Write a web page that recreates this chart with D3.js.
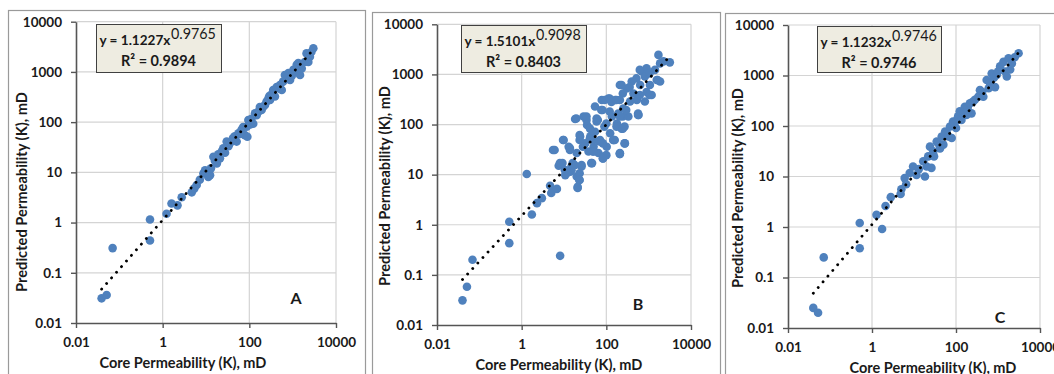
<!DOCTYPE html>
<html>
<head>
<meta charset="utf-8">
<script src="https://cdn.jsdelivr.net/npm/d3@7"></script>
<style>
  body { margin: 0; background: #fff; }
  svg { display: block; }
  text { font-family: Lato, "Open Sans", sans-serif; fill: #1a1a1a; }
</style>
</head>
<body>
<svg width="1054" height="374"></svg>
<script>
// core vs predicted permeability (mD)
var pointsA = [
  [0.039,0.031],[0.051,0.036],[0.070,0.31],[0.51,1.15],[0.51,0.44],[1.23,1.5],[1.6,2.4],[2.2,2.2],
  [2.75,3.2],[4.7,4.0],[5.4,4.8],[6.1,5.6],[7.2,7.1],[8.7,9.5],[9.5,11],[11.3,8.1],[12.4,8.8],[13,12],
  [14.8,20.5],[16,17],[17.8,15],[19.2,23],[21,19],[23,26],[25,30],[27.5,24.5],[30,41],[33,33],
  [35.6,38],[42,48],[46,52],[51,41],[56,60],[62,58],[66,70],[72,80],[79,55],[87,81],[90,51],[95,110],
  [100,100],[105,90],[112,117],[123,93],[135,150],[148,138],[162,162],[175,200],[192,175],[210,204],
  [230,220],[250,257],[275,295],[290,330],[300,275],[330,360],[355,437],[390,324],[427,500],[480,470],
  [510,550],[560,437],[600,640],[660,870],[730,740],[800,950],[870,690],[950,830],[1040,1100],
  [1150,1000],[1240,1380],[1350,1500],[1480,870],[1620,1170],[1900,1580],[2090,2340],[2300,1580],
  [2500,2000],[2700,2500],[3000,2950]
];
var pointsB = [
  [0.04,0.031],[0.051,0.058],[0.069,0.2],[0.51,1.15],[0.51,0.43],[1.32,10.3],[1.74,1.6],[2.3,2.7],
  [3.0,3.4],[5.0,4.3],[4.7,6.0],[6.8,5.2],[8.1,0.24],[6.0,31],[7.5,15],[9.2,17],[9.8,49],[10.7,9.8],
  [12.9,36],[14,11.5],[15,14.5],[18.3,129],[20,27],[21,5.4],[23,7.8],[24,58],[26,15.5],[29,145],
  [31.6,42],[35,98],[38,29],[42,58],[46,17],[50,36],[54,72],[59,132],[65,27],[71,49],[78,309],
  [81,195],[85,23],[90,91],[102,36],[112,331],[123,67],[135,145],[148,49],[162,309],[178,105],
  [191,166],[209,27],[209,616],[229,83],[251,209],[275,42],[302,525],[331,145],[363,288],[398,724],
  [437,417],[525,309],[575,155],[630,616],[692,1150],[813,912],[891,1320],[1070,616],[1175,389],
  [1410,1230],[1550,776],[1860,1660],[1860,724],[1700,2450],[2240,1820],[3160,1740],[813,288],
  [54,229],[617,1230],[1050,1050],[1620,776],[513,832],[229,617],[355,562],[245,417],[891,447],
  [1050,389],[91,309],[132,282],[209,309],[76,195],[120,182],[562,166],[245,145],[19.5,132],[34,123],
  [63,123],[100,105],[174,91],[245,83],[41,83],[9.5,49],[23.4,49],[49,49],[83,42],[158,49],[269,42],
  [5.5,31],[13.8,31],[28,36],[49,29],[100,24.5],[209,26],[8,17],[16,17],[26,14.5],[44,17],[83,21],
  [11.5,10.7],[20,9.2],[15,12.3],[21,5.7],
  [120,331],[174,309],[617,389],[34,145],[59,115],[209,145],[295,195],[562,155],[269,91],[23.4,62],
  [41,53],[69,46],[145,49],[13.8,34],[49,29],[83,21],[209,26],[17.8,15.5],[23.4,10.7],[10.5,12.3],
  [23.4,7.8]
];
var pointsC = [
  [0.04,0.025],[0.052,0.02],[0.071,0.25],[0.51,1.2],[0.51,0.38],[1.28,1.74],[1.74,0.91],[2.1,2.6],
  [2.8,3.9],[4.8,4.5],[5.0,5.6],[6.0,9.3],[6.5,7],[7.9,11.7],[9.5,15.8],[11.5,10.7],[13,14],
  [16.6,20],[18.2,10],[20,15.8],[21.8,25],[24,39],[26,14.8],[28.8,31.6],[30,25],[34.7,49],[38,45],
  [41.7,36],[45.7,62],[50,42.7],[55,78],[60,75],[66,62],[72,98],[79,58],[85,123],[90,110],[100,91],
  [105,130],[112,155],[123,195],[135,132],[150,170],[162,240],[178,166],[190,230],[214,282],
  [234,178],[250,300],[282,331],[339,380],[372,513],[420,470],[447,380],[537,813],[600,560],
  [646,708],[708,1096],[800,900],[851,589],[933,1023],[1000,1200],[1122,1514],[1349,1862],
  [1479,1202],[1622,955],[1778,2188],[1950,1318],[2138,1738],[2500,2300],[3090,2754]
];

var panelLabels = ["A", "B", "C"];
var eqCoef = [1.1227, 1.5101, 1.1232];
var eqPower = [0.9765, 0.9098, 0.9746];
var rSquared = [0.9894, 0.8403, 0.9746];
var xTicks = [0.01, 1, 100, 10000];
var yTicks = [0.01, 0.1, 1, 10, 100, 1000, 10000];

var layout = [
  { frame: [8, 10, 357], plot: [76, 336, 21.7, 323], box: [96, 24, 125, 48], letter: [296, 298], xTitle: [183, 363], yTitle: [22, 192] },
  { frame: [372, 12, 348], plot: [437, 691, 24.3, 325], box: [461, 25, 125, 47], letter: [638, 304], xTitle: [559, 365], yTitle: [385, 186] },
  { frame: [725, 13, 360], plot: [788, 1040, 25, 328], box: [817, 26, 124, 46], letter: [1000, 317], xTitle: [933, 368], yTitle: [738, 188] }
];

var svg = d3.select('svg');
var allPoints = [pointsA, pointsB, pointsC];

// scale a text's font size so its width matches what the reference shows
function fitWidth(node, target) {
  var w = node.getComputedTextLength();
  var fs = parseFloat(node.style.fontSize);
  node.style.fontSize = (fs * target / w) + 'px';
}

allPoints.forEach((pts, i) => drawPanel(pts, i, layout[i]));

function drawPanel(pts, i, L) {
  var g = svg.append('g');
  var p = L.plot;

  g.append('rect')
    .attr('x', L.frame[0] + 0.5).attr('y', L.frame[1] + 0.5)
    .attr('width', L.frame[2]).attr('height', 400)
    .attr('fill', 'none').attr('stroke', '#9a9a9a').attr('stroke-width', 1.2);

  var x = d3.scaleLog().domain([0.01, 10000]).range([p[0], p[1]]);
  var y = d3.scaleLog().domain([0.01, 10000]).range([p[3], p[2]]);

  // gridlines
  g.selectAll('.gy').data(yTicks.slice(1)).enter().append('line')
    .attr('x1', p[0]).attr('x2', p[1])
    .attr('y1', d => y(d)).attr('y2', d => y(d))
    .attr('stroke', '#d4d4d4').attr('stroke-width', 1.2);
  g.selectAll('.gx').data(xTicks.slice(1)).enter().append('line')
    .attr('x1', d => x(d)).attr('x2', d => x(d))
    .attr('y1', p[2]).attr('y2', p[3])
    .attr('stroke', '#d4d4d4').attr('stroke-width', 1.2);

  var xAxis = g.append('g')
    .attr('transform', 'translate(0,' + p[3] + ')')
    .call(d3.axisBottom(x).tickValues(xTicks).tickFormat(d => String(d))
      .tickSize(5).tickSizeOuter(0).tickPadding(9));
  var yAxis = g.append('g')
    .attr('transform', 'translate(' + p[0] + ',0)')
    .call(d3.axisLeft(y).tickValues(yTicks).tickFormat(d => String(d))
      .tickSize(5).tickSizeOuter(0).tickPadding(9));
  [xAxis, yAxis].forEach(a => {
    a.select('.domain').attr('stroke', '#555').attr('stroke-width', 1.6);
    a.selectAll('.tick line').attr('stroke', '#555').attr('stroke-width', 1.4);
    a.selectAll('.tick text')
      .style('font-family', 'Lato, sans-serif')
      .style('font-weight', 700).style('font-size', '13.5px').attr('fill', '#1a1a1a');
  });

  // points
  g.selectAll('circle').data(pts).enter().append('circle')
    .attr('cx', d => x(d[0])).attr('cy', d => y(d[1]))
    .attr('r', 4.3).attr('fill', '#4F81BD');

  // power trendline
  var xr = d3.extent(pts, d => d[0]);
  var steps = d3.range(0, 41).map(k => xr[0] * Math.pow(xr[1] / xr[0], k / 40));
  var line = d3.line().x(d => x(d)).y(d => y(eqCoef[i] * Math.pow(d, eqPower[i])));
  g.append('path').datum(steps)
    .attr('d', line)
    .attr('fill', 'none').attr('stroke', '#000')
    .attr('stroke-width', 2.8).attr('stroke-linecap', 'round')
    .attr('stroke-dasharray', '0.1,7.4');

  // equation box
  var b = L.box;
  g.append('rect')
    .attr('x', b[0] + 0.5).attr('y', b[1] + 0.5).attr('width', b[2]).attr('height', b[3])
    .attr('fill', '#eeece1').attr('stroke', '#404040').attr('stroke-width', 1);
  var eqMain = g.append('text')
    .attr('x', b[0] + 3.5).attr('y', b[1] + 21)
    .style('font-size', '14px').style('font-weight', 700)
    .text('y = ' + eqCoef[i].toFixed(4) + 'x');
  fitWidth(eqMain.node(), 71);
  var eqSup = g.append('text')
    .attr('x', b[0] + 3.5 + 71.5).attr('y', b[1] + 14.5)
    .style('font-size', '10px').style('font-weight', 400)
    .text(eqPower[i].toFixed(4));
  fitWidth(eqSup.node(), 45);
  var r2 = g.append('text')
    .attr('x', b[0] + b[2] / 2).attr('y', b[1] + 42)
    .attr('text-anchor', 'middle')
    .style('font-size', '14px').style('font-weight', 700)
    .text('R\u00B2 = ' + rSquared[i].toFixed(4));
  fitWidth(r2.node(), 75);

  g.append('text')
    .attr('x', L.letter[0]).attr('y', L.letter[1] + 5.5)
    .attr('text-anchor', 'middle')
    .style('font-size', '16px').style('font-weight', 700)
    .text(panelLabels[i]);

  var xt = g.append('text')
    .attr('x', L.xTitle[0]).attr('y', L.xTitle[1] + 4.5)
    .attr('text-anchor', 'middle')
    .style('font-size', '12.5px').style('font-weight', 700)
    .text('Core Permeability (K), mD');
  fitWidth(xt.node(), 167);
  var yt = g.append('text')
    .attr('transform', 'translate(' + (L.yTitle[0] + 4.5) + ',' + L.yTitle[1] + ') rotate(-90)')
    .attr('text-anchor', 'middle')
    .style('font-size', '12.5px').style('font-weight', 700)
    .text('Predicted Permeability (K), mD');
  fitWidth(yt.node(), 200);
}
</script>
</body>
</html>
